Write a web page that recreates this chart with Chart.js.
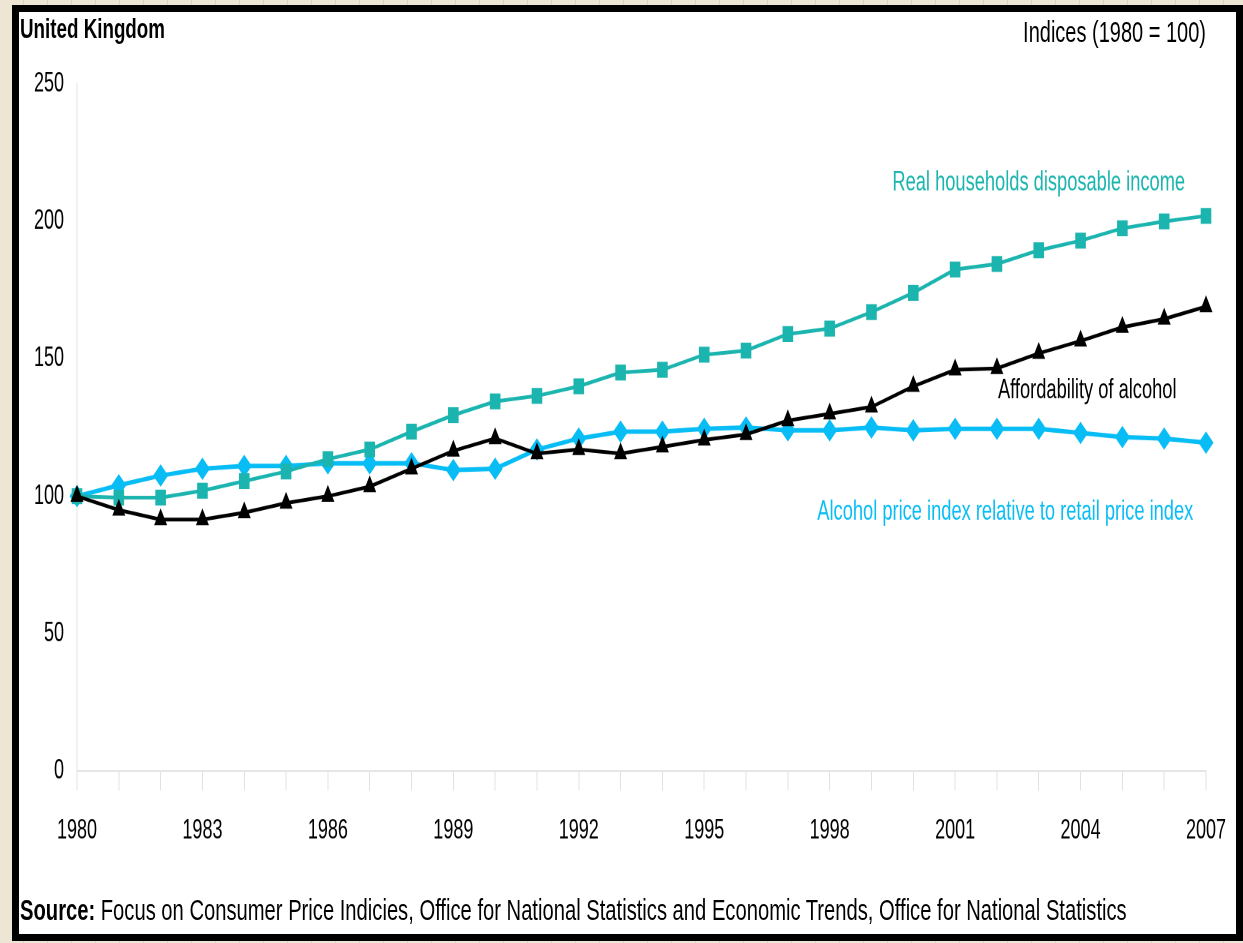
<!DOCTYPE html>
<html>
<head>
<meta charset="utf-8">
<title>Affordability of alcohol, United Kingdom</title>
<script src="https://cdn.jsdelivr.net/npm/chart.js@4.4.1/dist/chart.umd.min.js"></script>
<style>
body{
    margin:0;
    width:1243px;height:943px;overflow:hidden;
    background-color:#ede6d5;
    background-image:repeating-linear-gradient(90deg,rgba(0,0,0,0) 0 23px,#ddd5c2 23px 24px);
    font-family:"Liberation Sans",Arial,sans-serif;
}
#frame{
    position:absolute;left:12px;top:5px;
    width:1217px;height:922px;
    border:7px solid #000;background:#fff;
}
/* everything inside is drawn tall and narrow */
#stretch{
    position:absolute;left:0;top:0;
    width:1243px;height:629px;
    transform-origin:0 0;transform:scaleY(1.5);
}
#chartBox{position:absolute;left:0;top:0;width:1243px;height:629px;}
.txt{position:absolute;white-space:nowrap;line-height:1;color:#000;}
#place{left:20px;top:10.3px;font-size:18.8px;font-weight:bold;}
#units{right:37px;top:11.4px;font-size:20px;}
#source{left:20px;top:595.5px;font-size:20.2px;}
</style>
</head>
<body>
<div id="frame"></div>
<div id="stretch">
    <div id="chartBox"><canvas id="chart"></canvas></div>
    <div class="txt" id="place">United Kingdom</div>
    <div class="txt" id="units">Indices (1980 = 100)</div>
    <div class="txt" id="source"><b>Source:</b> Focus on Consumer Price Indicies, Office for National Statistics and Economic Trends, Office for National Statistics</div>
</div>

<script>
// years on the x axis
const years = [1980,1981,1982,1983,1984,1985,1986,1987,1988,1989,1990,1991,1992,1993,
               1994,1995,1996,1997,1998,1999,2000,2001,2002,2003,2004,2005,2006,2007];

// index values, 1980 = 100
const realIncome = [100,99.5,99.5,102,105.5,109,113.5,117,123.5,129.5,134.5,136.5,140,145,
                    146,151.5,153,159,161,167,174,182.5,184.5,189.5,193,197.5,200,202];
const affordability = [100,95,91.5,91.5,94,97.5,100,103.5,110,116.5,121,115.5,117,115.5,
                       118,120.5,122.5,127.5,130,132.5,140,146,146.5,152,156.5,161.5,164.5,169];
const alcoholPrice = [100,104,107.5,110,111,111,112,112,112,109.5,110,117,121,123.5,
                      123.5,124.5,125,124,124,125,124,124.5,124.5,124.5,123,121.5,121,119.5];

const yTicks = [0,50,100,150,200,250];

const TEAL = "#1bb4ae";
const BLUE = "#08bdf5";

// series names written next to the lines (x as year index, y as index value)
const seriesLabels = [
    {text:"Real households disposable income", x:23, y:214, color:TEAL},
    {text:"Affordability of alcohol", x:24.16, y:138.3, color:"#000"},
    {text:"Alcohol price index relative to retail price index", x:22.2, y:94.2, color:BLUE}
];

const labelPlugin = {
    id:"seriesLabels",
    afterDatasetsDraw(chart){
        const ctx = chart.ctx;
        const xs = chart.scales.x, ys = chart.scales.y;
        ctx.save();
        ctx.font = "18.3px 'Liberation Sans', Arial, sans-serif";
        ctx.textAlign = "center";
        ctx.textBaseline = "middle";
        seriesLabels.forEach(l=>{
            ctx.fillStyle = l.color;
            ctx.fillText(l.text, xs.getPixelForValue(l.x), ys.getPixelForValue(l.y));
        });
        ctx.restore();
    }
};

Chart.defaults.font.family = "'Liberation Sans', Arial, sans-serif";
Chart.defaults.font.size = 18;
Chart.defaults.color = "#000";

new Chart(document.getElementById("chart"),{
    type:"line",
    data:{
        labels:years,
        datasets:[
            {
                label:"Affordability of alcohol",
                data:affordability,
                borderColor:"#000",backgroundColor:"#000",
                borderWidth:2.5,pointStyle:"triangle",pointRadius:7.5,
                pointBorderWidth:0,tension:0
            },
            {
                label:"Real households disposable income",
                data:realIncome,
                borderColor:TEAL,backgroundColor:TEAL,
                borderWidth:2.5,pointStyle:"rect",pointRadius:7.5,
                pointBorderWidth:0,tension:0
            },
            {
                label:"Alcohol price index relative to retail price index",
                data:alcoholPrice,
                borderColor:BLUE,backgroundColor:BLUE,
                borderWidth:3,pointStyle:"rectRot",pointRadius:7.5,
                pointBorderWidth:0,tension:0
            }
        ]
    },
    options:{
        responsive:true,
        maintainAspectRatio:false,
        animation:false,
        devicePixelRatio:2,
        layout:{padding:{left:0,right:37,top:56,bottom:0}},
        plugins:{legend:{display:false},tooltip:{enabled:false}},
        scales:{
            x:{
                type:"category",
                offset:false,
                grid:{display:true,drawOnChartArea:false,drawTicks:true,tickLength:13,color:"#e2e2e2",lineWidth:1},
                border:{display:true,color:"#e2e2e2",width:1},
                ticks:{
                    autoSkip:false,maxRotation:0,padding:16,
                    callback:(v,i)=> i%3===0 ? String(years[i]) : ""
                },
                afterFit:s=>{ s.height = 115; }
            },
            y:{
                min:0,max:250,
                grid:{display:false,drawTicks:false},
                border:{display:true,color:"#e2e2e2",width:1},
                ticks:{stepSize:50,padding:13,callback:v=> yTicks.includes(v) ? String(v) : ""},
                afterFit:s=>{ s.width = 77; }
            }
        }
    },
    plugins:[labelPlugin]
});
</script>
</body>
</html>
